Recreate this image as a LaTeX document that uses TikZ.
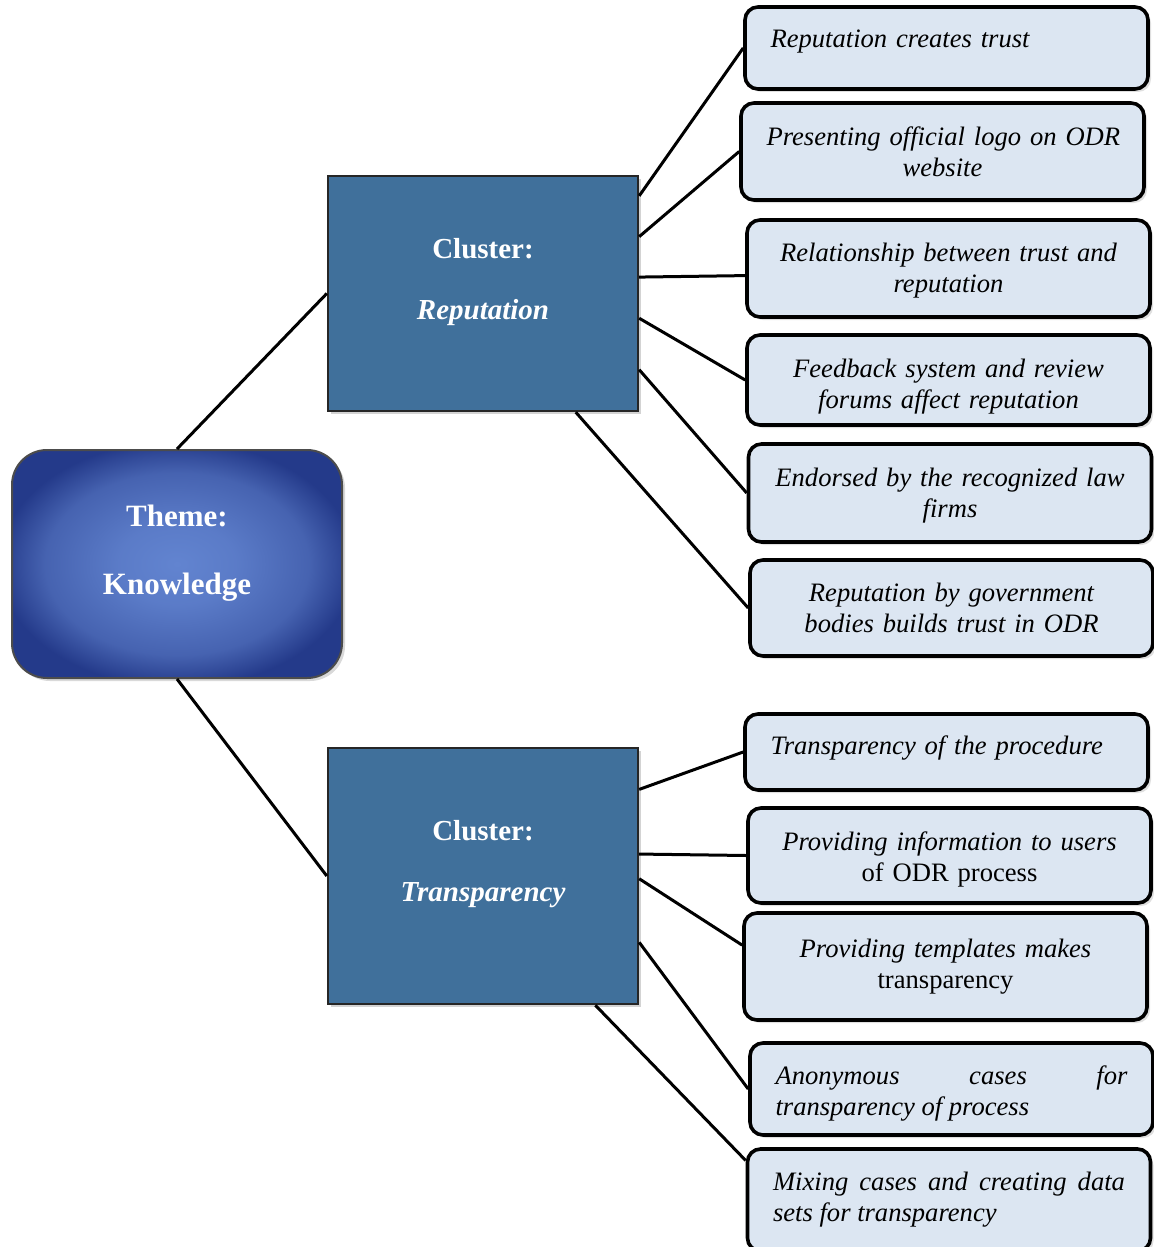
\documentclass[tikz,border=0pt]{standalone}
\usepackage{fontspec}
\setmainfont{Liberation Serif}
\usetikzlibrary{positioning,shadows}

\definecolor{leafblue}{RGB}{220,230,242}
\definecolor{clusterblue}{RGB}{64,112,155}
\definecolor{themein}{RGB}{98,132,208}
\definecolor{themeout}{RGB}{36,58,138}
\pgfdeclareradialshading{themeglow}{\pgfpoint{0bp}{0bp}}{color(0bp)=(themein); color(9bp)=(themein!88!themeout);
	color(20bp)=(themein!55!themeout); color(27bp)=(themeout); color(50bp)=(themeout)}
% strut that pushes the first line down by #1
\newcommand\dropby[1]{\rule{0pt}{\dimexpr 9.2pt+#1*2\relax}}

\begin{document}
\begin{tikzpicture}[x=0.5pt,y=-0.5pt,line width=1.5pt,
	leaf/.style={draw,line width=1.8pt,rounded corners=6.5pt,fill=leafblue,text width=176pt,inner xsep=12.75pt,align=center,
		font=\fontsize{13.3}{15.5}\selectfont\itshape,drop shadow={opacity=0.25,shadow xshift=1.5pt,shadow yshift=-1.5pt}},
	cluster/.style={draw=black!85,line width=1.2pt,fill=clusterblue,minimum width=155pt,minimum height=117.5pt,
		text=white,align=center,font=\fontsize{14.5}{30.5}\selectfont\bfseries,text depth=15pt,
		drop shadow={opacity=0.35,shadow xshift=1.5pt,shadow yshift=-1.5pt}},
	theme/.style={draw=black!70,line width=1pt,rounded corners=17.5pt,shading=themeglow,
		minimum width=165pt,minimum height=114pt,text=white,align=center,font=\fontsize{15.5}{34}\selectfont\bfseries,
		text depth=14.3pt,drop shadow={opacity=0.3,shadow xshift=1.5pt,shadow yshift=-1.5pt}}]
	\useasboundingbox (0,0) rectangle (1153,1247);

	\node[theme] (theme) at (177,564) {Theme:\\Knowledge};
	\node[cluster] (rep) at (483,293.5) {Cluster:\\\textit{Reputation}};
	\node[cluster,minimum height=128pt] (trans) at (483,876) {Cluster:\\\textit{Transparency}};

	% reputation codes
	\node[leaf,minimum height=41pt,align=left,text depth=9.4pt] (r1) at (946.5,48) {Reputation creates trust};
	\node[leaf,minimum height=48.5pt] (r2) at (942.5,151.5) {\mbox{Presenting official logo on ODR}\\website};
	\node[leaf,minimum height=48.5pt] (r3) at (948.5,268.5) {\dropby{1pt}Relationship between trust and\\reputation};
	\node[leaf,minimum height=45pt] (r4) at (948.5,380) {\dropby{3.5pt}Feedback system and review\\forums affect reputation};
	\node[leaf,minimum height=49pt] (r5) at (950,493) {\dropby{1.5pt}Endorsed by the recognized law\\firms};
	\node[leaf,minimum height=48pt] (r6) at (951.5,608) {Reputation by government\\bodies builds trust in ODR};

	% transparency codes
	\node[leaf,minimum height=38pt,align=left,text depth=6.9pt] (t1) at (946.5,752) {Transparency of the procedure};
	\node[leaf,minimum height=47.5pt] (t2) at (949.5,855.5) {\dropby{2pt}Providing information to users\\\upshape of ODR process};
	\node[leaf,minimum height=53.5pt] (t3) at (945.5,966.5) {Providing templates makes\\\upshape transparency};
	\node[leaf,minimum height=46pt,align=justify] (t4) at (951.5,1089) {\dropby{2.5pt}Anonymous cases for\linebreak transparency of process};
	\node[leaf,minimum height=51pt,align=justify] (t5) at (949,1200) {Mixing cases and creating data\linebreak sets for transparency};

	\path
	(theme.north) edge (rep.west)
	(theme.south) edge (trans.west)
	(rep.32) edge (r1.west)
	(rep.20.4) edge (r2.west)
	(rep.6.4) edge (r3.182)
	(rep.-9) edge (r4.west)
	(rep.-26.3) edge (r5.west)
	(rep.-52.5) edge (r6.west)
	(trans.29) edge (t1.west)
	(trans.8.4) edge (t2.west)
	(trans.-1.5) edge (t3.174)
	(trans.-23.4) edge (t4.west)
	(trans.-49.3) edge (t5.169);
\end{tikzpicture}
\end{document}
